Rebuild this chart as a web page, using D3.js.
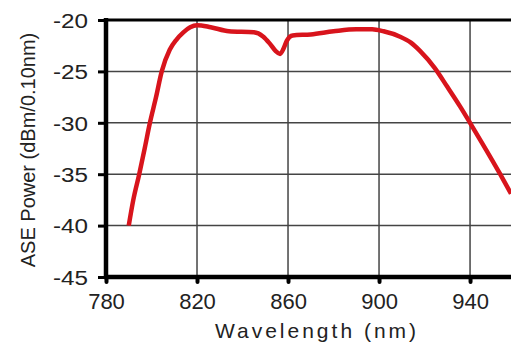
<!DOCTYPE html>
<html>
<head>
<meta charset="utf-8">
<title>ASE spectrum</title>
<script src="https://d3js.org/d3.v7.min.js"></script>
<style>
  body { margin: 0; background: #fff; }
  svg { display: block; font-family: "Liberation Sans", Arial, sans-serif; }
</style>
</head>
<body>
<div id="chart"></div>
<script>
// wavelength (nm) and ASE power (dBm/0.10nm)
var wavelength = [790, 792, 794.6, 797, 799.3, 802, 804.5, 808, 811, 814, 817, 820, 826, 834, 845, 849, 852, 854.5, 856.5, 858, 859.5, 862, 870, 880, 890, 897, 902, 909, 914, 918, 924.6, 930, 935.6, 940, 947, 953, 958];
var power = [-40, -37.5, -35, -32.5, -30, -27.5, -25, -22.9, -21.9, -21.2, -20.7, -20.5, -20.7, -21.1, -21.2, -21.6, -22.3, -23.0, -23.3, -22.8, -22.0, -21.5, -21.4, -21.1, -20.9, -20.9, -21.1, -21.6, -22.2, -23.0, -24.7, -26.5, -28.4, -30.0, -32.6, -34.9, -36.9];
var xTicks = [780, 820, 860, 900, 940];
var yTicks = [-20, -25, -30, -35, -40, -45];

var W = 511, H = 343;
var margin = {top: 20, right: 0, bottom: 66, left: 106};

var svg = d3.select("#chart").append("svg")
    .attr("width", W)
    .attr("height", H);

var x = d3.scaleLinear().domain([780, 958]).range([margin.left, W - margin.right]);
var y = d3.scaleLinear().domain([-45, -20]).range([H - margin.bottom, margin.top]);

// grid
svg.append("g").selectAll("line")
    .data(yTicks.slice(1, -1))
    .join("line")
    .attr("x1", x(780)).attr("x2", W)
    .attr("y1", d => y(d)).attr("y2", d => y(d))
    .attr("stroke", "#444").attr("stroke-width", 1.5);
svg.append("g").selectAll("line")
    .data(xTicks.slice(1))
    .join("line")
    .attr("x1", d => x(d)).attr("x2", d => x(d))
    .attr("y1", y(-20)).attr("y2", y(-45))
    .attr("stroke", "#444").attr("stroke-width", 1.5);

// top border
svg.append("line")
    .attr("x1", x(780)).attr("x2", W)
    .attr("y1", y(-20)).attr("y2", y(-20))
    .attr("stroke", "#000").attr("stroke-width", 3);

// y axis (plain hyphen minus like the original)
var yAxis = svg.append("g")
    .attr("transform", "translate(" + x(780) + ",0)")
    .call(d3.axisLeft(y).tickValues(yTicks).tickFormat(d => String(d)).tickSize(8).tickPadding(10));
yAxis.select(".domain").attr("stroke-width", 4.5).attr("d", "M0," + (y(-20) - 2) + "V" + (y(-45) + 2));
yAxis.selectAll(".tick line").attr("stroke-width", 3);
yAxis.selectAll(".tick text")
    .attr("font-size", 20)
    .attr("fill", "#222")
    .attr("textLength", 35)
    .attr("lengthAdjust", "spacingAndGlyphs")
    .attr("dy", "0.36em");

// x axis
var xAxis = svg.append("g")
    .attr("transform", "translate(0," + y(-45) + ")")
    .call(d3.axisBottom(x).tickValues(xTicks).tickFormat(d => String(d)).tickSize(5).tickPadding(6));
xAxis.select(".domain").attr("stroke-width", 4.5).attr("d", "M" + (x(780) - 2) + ",0H" + W);
xAxis.selectAll(".tick line").attr("stroke-width", 4).attr("stroke-linecap", "round");
xAxis.selectAll(".tick text")
    .attr("font-size", 22)
    .attr("fill", "#222")
    .attr("dy", "0.95em");

// axis titles
svg.append("text")
    .attr("x", 317).attr("y", 338)
    .attr("text-anchor", "middle")
    .attr("font-size", 21)
    .attr("letter-spacing", 3)
    .attr("fill", "#222")
    .text("Wavelength (nm)");

svg.append("text")
    .attr("transform", "translate(35,150) rotate(-90)")
    .attr("text-anchor", "middle")
    .attr("font-size", 20)
    .attr("fill", "#222")
    .text("ASE Power (dBm/0.10nm)");

// curve
var pts = wavelength.map((d, i) => [d, power[i]]);
svg.append("path")
    .datum(pts)
    .attr("fill", "none")
    .attr("stroke", "#d8141c")
    .attr("stroke-width", 4.5)
    .attr("stroke-linejoin", "round")
    .attr("d", d3.line()
        .x(d => x(d[0]))
        .y(d => y(d[1]))
        .curve(d3.curveMonotoneX));
</script>
</body>
</html>
